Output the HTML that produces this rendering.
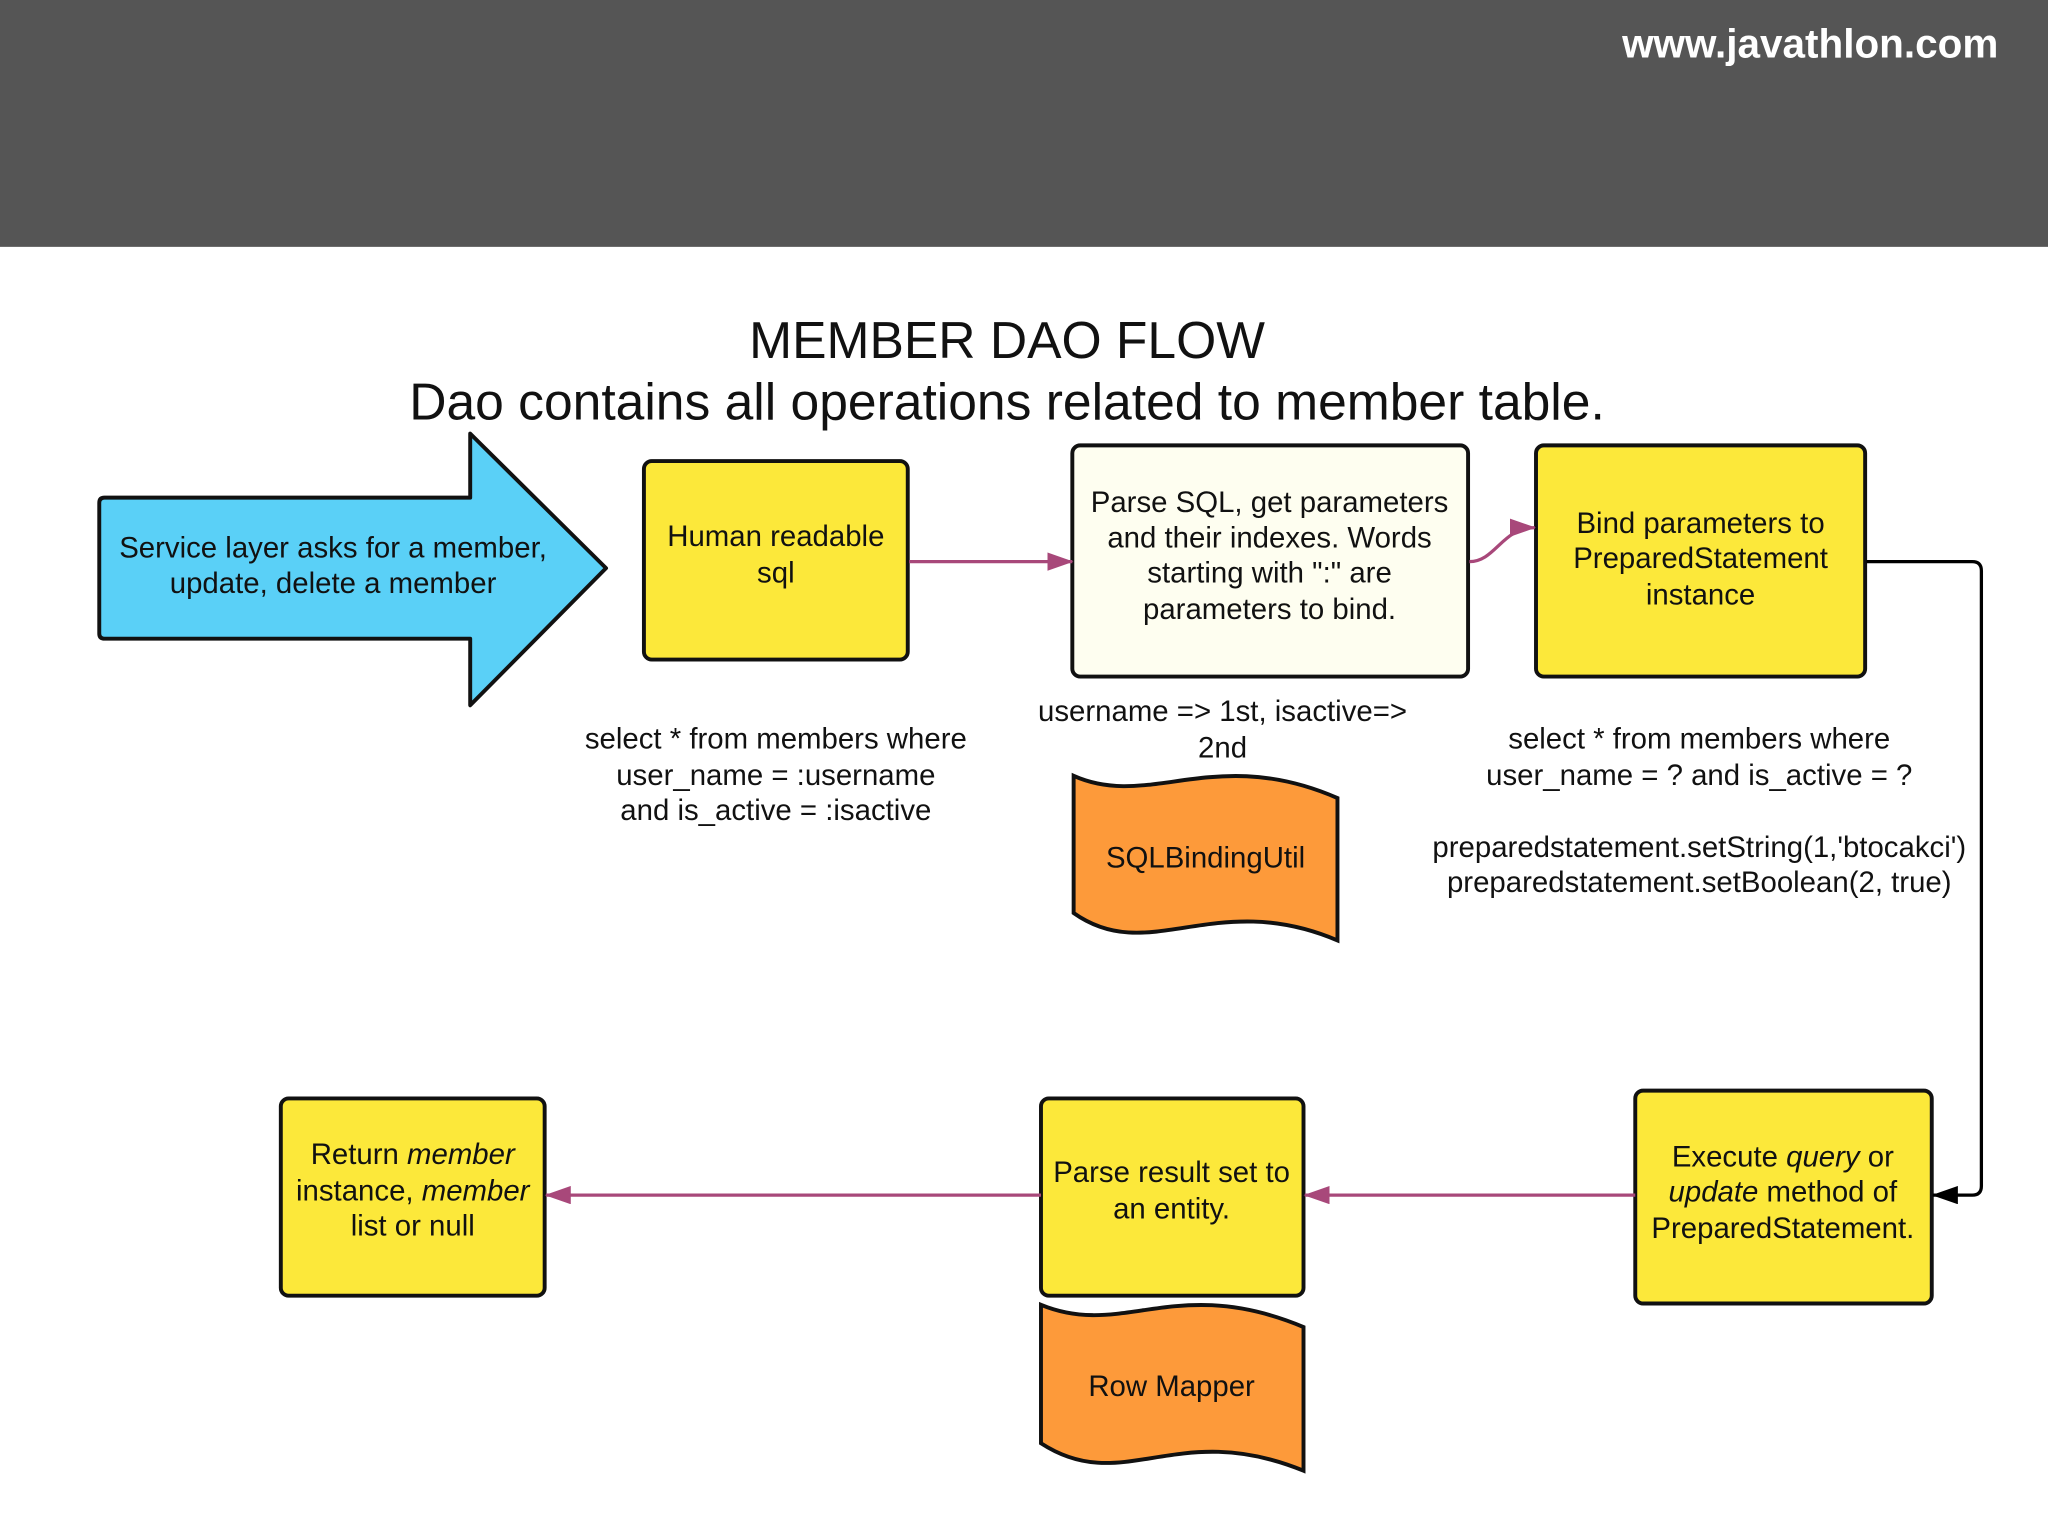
<!DOCTYPE html>
<html><head><meta charset="utf-8"><style>
html,body{margin:0;padding:0;background:#fff}
svg{display:block}
text{font-family:"Liberation Sans",sans-serif;fill:#111}
</style></head><body>
<svg width="2048" height="1536" viewBox="0 0 1568 1176" xmlns="http://www.w3.org/2000/svg">
<defs>
<marker id="pa2" markerWidth="20" markerHeight="14" refX="19" refY="7" orient="auto" markerUnits="userSpaceOnUse"><path d="M0,0 L20,7 L0,14 z" fill="#a8487a"/></marker>
<marker id="ba" markerWidth="20" markerHeight="14" refX="19" refY="7" orient="auto" markerUnits="userSpaceOnUse"><path d="M0,0 L20,7 L0,14 z" fill="#000"/></marker>
</defs>
<rect x="0" y="0" width="1568" height="189" fill="#555555"/>
<text x="1530" y="44" text-anchor="end" font-size="31" font-weight="bold" style="fill:#fff" font-family="DejaVu Sans, sans-serif">www.javathlon.com</text>
<text x="771" y="274" text-anchor="middle" font-size="39.5">MEMBER DAO FLOW</text>
<text x="771" y="321" text-anchor="middle" font-size="39.5">Dao contains all operations related to member table.</text>

<path d="M80,381 L360,381 L360,332 L464,435 L360,540 L360,489 L80,489 Q76,489 76,485 L76,385 Q76,381 80,381 z" fill="#5ad0f7" stroke="#111" stroke-width="3" stroke-linejoin="round"/>
<text x="255" y="427" text-anchor="middle" font-size="22.5">Service layer asks for a member,</text>
<text x="255" y="454" text-anchor="middle" font-size="22.5">update, delete a member</text>

<rect x="493" y="353" width="202" height="152" rx="6" fill="#fce83a" stroke="#111" stroke-width="3"/>
<text x="594" y="418" text-anchor="middle" font-size="22.5">Human readable</text>
<text x="594" y="446" text-anchor="middle" font-size="22.5">sql</text>

<rect x="821" y="341" width="303" height="177" rx="6" fill="#fefef0" stroke="#111" stroke-width="3"/>
<text x="972" y="392" text-anchor="middle" font-size="22.5">Parse SQL, get parameters</text>
<text x="972" y="419" text-anchor="middle" font-size="22.5">and their indexes. Words</text>
<text x="972" y="446" text-anchor="middle" font-size="22.5">starting with ":" are</text>
<text x="972" y="474" text-anchor="middle" font-size="22.5">parameters to bind.</text>

<rect x="1176" y="341" width="252" height="177" rx="6" fill="#fce83a" stroke="#111" stroke-width="3"/>
<text x="1302" y="408" text-anchor="middle" font-size="22.5">Bind parameters to</text>
<text x="1302" y="435" text-anchor="middle" font-size="22.5">PreparedStatement</text>
<text x="1302" y="463" text-anchor="middle" font-size="22.5">instance</text>

<text x="594" y="573" text-anchor="middle" font-size="22.5">select * from members where</text>
<text x="594" y="601" text-anchor="middle" font-size="22.5">user_name = :username</text>
<text x="594" y="628" text-anchor="middle" font-size="22.5">and is_active = :isactive</text>

<text x="936" y="552" text-anchor="middle" font-size="22.5">username =&gt; 1st, isactive=&gt;</text>
<text x="936" y="580" text-anchor="middle" font-size="22.5">2nd</text>

<path d="M822,594 C880,620 930,570 1024,611 L1024,720 C930,680 880,740 822,699 z" fill="#fd9a3a" stroke="#111" stroke-width="3"/>
<text x="923" y="664" text-anchor="middle" font-size="22.5">SQLBindingUtil</text>

<text x="1301" y="573" text-anchor="middle" font-size="22.5">select * from members where</text>
<text x="1301" y="601" text-anchor="middle" font-size="22.5">user_name = ? and is_active = ?</text>
<text x="1301" y="656" text-anchor="middle" font-size="22.5">preparedstatement.setString(1,'btocakci')</text>
<text x="1301" y="683" text-anchor="middle" font-size="22.5">preparedstatement.setBoolean(2, true)</text>

<rect x="1252" y="835" width="227" height="163" rx="6" fill="#fce83a" stroke="#111" stroke-width="3"/>
<text x="1365" y="893" text-anchor="middle" font-size="22.5">Execute <tspan font-style="italic">query</tspan>  or</text>
<text x="1365" y="920" text-anchor="middle" font-size="22.5"><tspan font-style="italic">update</tspan> method of</text>
<text x="1365" y="948" text-anchor="middle" font-size="22.5">PreparedStatement.</text>

<rect x="797" y="841" width="201" height="151" rx="6" fill="#fce83a" stroke="#111" stroke-width="3"/>
<text x="897" y="905" text-anchor="middle" font-size="22.5">Parse result set to</text>
<text x="897" y="933" text-anchor="middle" font-size="22.5">an entity.</text>

<path d="M797,999 C860,1025 900,975 998,1016 L998,1126 C900,1086 860,1146 797,1105 z" fill="#fd9a3a" stroke="#111" stroke-width="3"/>
<text x="897" y="1069" text-anchor="middle" font-size="22.5">Row Mapper</text>

<rect x="215" y="841" width="202" height="151" rx="6" fill="#fce83a" stroke="#111" stroke-width="3"/>
<text x="316" y="891" text-anchor="middle" font-size="22.5">Return <tspan font-style="italic">member</tspan></text>
<text x="316" y="919" text-anchor="middle" font-size="22.5">instance, <tspan font-style="italic">member</tspan></text>
<text x="316" y="946" text-anchor="middle" font-size="22.5">list or null</text>

<line x1="696" y1="430" x2="821" y2="430" stroke="#a8487a" stroke-width="2.5" marker-end="url(#pa2)"/>
<path d="M1125,430 C1145,430 1150,404 1175,404" fill="none" stroke="#a8487a" stroke-width="2.5" marker-end="url(#pa2)"/>
<path d="M1429,430 L1510,430 Q1517,430 1517,437 L1517,908 Q1517,915 1510,915 L1480,915" fill="none" stroke="#000" stroke-width="2.5" marker-end="url(#ba)"/>
<line x1="1252" y1="915" x2="999" y2="915" stroke="#a8487a" stroke-width="2.5" marker-end="url(#pa2)"/>
<line x1="797" y1="915" x2="418" y2="915" stroke="#a8487a" stroke-width="2.5" marker-end="url(#pa2)"/>
</svg>
</body></html>
